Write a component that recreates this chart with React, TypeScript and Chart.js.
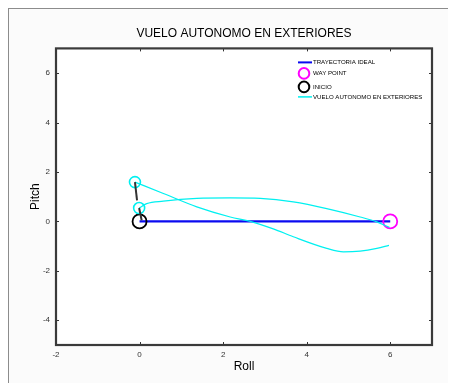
import React, { useEffect, useRef } from 'react';
import { Chart, registerables } from 'chart.js';

Chart.register(...registerables);

const TITLE = 'VUELO AUTONOMO EN EXTERIORES';
const X_LABEL = 'Roll';
const Y_LABEL = 'Pitch';
const X_TICKS = [-2, 0, 2, 4, 6];
const Y_TICKS = [-4, -2, 0, 2, 4, 6];
const X_MIN = -2;
const X_MAX = 7;
const Y_MIN = -5;
const Y_MAX = 7;

const LEGEND_LABELS = ['TRAYECTORIA IDEAL', 'WAY POINT', 'INICIO', 'VUELO AUTONOMO EN EXTERIORES'];

// ideal trajectory
const IDEAL_X = [0, 6];
const IDEAL_Y = [0, 0];
// way point & start
const WAYPOINT_X = [6];
const WAYPOINT_Y = [0];
const START_X = [0];
const START_Y = [0];
// flight segment A
const FLIGHT_A_X = [-0.11, 0.57, 1.37, 2.17, 2.65, 3.2, 3.68, 4.48, 4.88, 5.28, 5.68, 5.97];
const FLIGHT_A_Y = [1.59, 1.13, 0.59, 0.18, 0.0, -0.3, -0.62, -1.09, -1.23, -1.2, -1.09, -0.97];
// flight segment B
const FLIGHT_B_X = [-0.01, 0.17, 0.57, 1.37, 2.17, 2.89, 3.68, 4.48, 5.28, 5.68, 5.98];
const FLIGHT_B_Y = [0.54, 0.72, 0.82, 0.93, 0.95, 0.93, 0.79, 0.52, 0.18, -0.02, -0.24];
// flight markers (cyan circles)
const MARK_X = [-0.11, -0.01];
const MARK_Y = [1.59, 0.54];
// heading segments
const HEAD_A_X = [-0.11, -0.06];
const HEAD_A_Y = [1.59, 0.85];
const HEAD_B_X = [-0.01, 0.05];
const HEAD_B_Y = [0.54, 0.05];

const FONT = 'Liberation Sans, Arial, Helvetica, sans-serif';
const BLUE = '#0a0af0';
const MAGENTA = '#ff00ff';
const CYAN = '#00f0f0';
const DARK = '#333333';

const pts = (xs: number[], ys: number[]) => xs.map((x, i) => ({ x, y: ys[i] }));

const bgPlugin = {
  id: 'bgPlugin',
  beforeDraw(chart: any) {
    const { ctx, chartArea: a, width, height } = chart;
    ctx.save();
    ctx.fillStyle = '#fbfbfb';
    ctx.fillRect(0, 0, width, height);
    ctx.fillStyle = '#ffffff';
    ctx.fillRect(a.left, a.top, a.right - a.left, a.bottom - a.top);
    ctx.restore();
  },
};

const framePlugin = {
  id: 'framePlugin',
  afterDatasetsDraw(chart: any) {
    const { ctx, chartArea: a, scales } = chart;
    ctx.save();
    ctx.strokeStyle = DARK;
    ctx.lineWidth = 1;
    const tl = 3;
    X_TICKS.forEach((v) => {
      const p = Math.round(scales.x.getPixelForValue(v)) + 0.5;
      ctx.beginPath();
      ctx.moveTo(p, a.bottom);
      ctx.lineTo(p, a.bottom - tl);
      ctx.moveTo(p, a.top);
      ctx.lineTo(p, a.top + tl);
      ctx.stroke();
    });
    Y_TICKS.forEach((v) => {
      const p = Math.round(scales.y.getPixelForValue(v)) + 0.5;
      ctx.beginPath();
      ctx.moveTo(a.left, p);
      ctx.lineTo(a.left + tl, p);
      ctx.moveTo(a.right, p);
      ctx.lineTo(a.right - tl, p);
      ctx.stroke();
    });
    ctx.lineWidth = 2.2;
    ctx.strokeStyle = '#3a3a3a';
    ctx.strokeRect(a.left, a.top, a.right - a.left, a.bottom - a.top);
    ctx.restore();
  },
};

const legendPlugin = {
  id: 'customLegend',
  afterDraw(chart: any) {
    const { ctx, chartArea: a } = chart;
    const lineX0 = a.right - 134;
    const lineX1 = a.right - 120;
    const cx = a.right - 128;
    const tx = a.right - 119;
    const rows = [a.top + 14, a.top + 25, a.top + 38.5, a.top + 48.5];
    ctx.save();
    ctx.font = `6.1px ${FONT}`;
    ctx.fillStyle = '#000';
    ctx.textBaseline = 'middle';
    ctx.textAlign = 'left';
    ctx.strokeStyle = BLUE;
    ctx.lineWidth = 2;
    ctx.beginPath();
    ctx.moveTo(lineX0, rows[0]);
    ctx.lineTo(lineX1, rows[0]);
    ctx.stroke();
    ctx.strokeStyle = MAGENTA;
    ctx.beginPath();
    ctx.arc(cx, rows[1], 5.3, 0, Math.PI * 2);
    ctx.stroke();
    ctx.strokeStyle = '#000';
    ctx.beginPath();
    ctx.arc(cx, rows[2], 5.3, 0, Math.PI * 2);
    ctx.stroke();
    ctx.strokeStyle = CYAN;
    ctx.lineWidth = 1.5;
    ctx.beginPath();
    ctx.moveTo(lineX0, rows[3]);
    ctx.lineTo(lineX1, rows[3]);
    ctx.stroke();
    LEGEND_LABELS.forEach((t, i) => ctx.fillText(t, tx, rows[i]));
    ctx.restore();
  },
};

export default function App() {
  const ref = useRef<HTMLCanvasElement>(null);

  useEffect(() => {
    if (!ref.current) return;
    Chart.defaults.font.family = FONT;
    const chart = new Chart(ref.current, {
      type: 'scatter',
      data: {
        datasets: [
          {
            label: 'heading A',
            data: pts(HEAD_A_X, HEAD_A_Y),
            showLine: true,
            borderColor: DARK,
            borderWidth: 2,
            pointRadius: 0,
          },
          {
            label: 'heading B',
            data: pts(HEAD_B_X, HEAD_B_Y),
            showLine: true,
            borderColor: DARK,
            borderWidth: 2,
            pointRadius: 0,
          },
          {
            label: 'marks',
            data: pts(MARK_X, MARK_Y),
            showLine: false,
            pointRadius: 5.5,
            pointBorderWidth: 1.6,
            pointBorderColor: CYAN,
            pointBackgroundColor: 'rgba(0,0,0,0)',
          },
          {
            label: LEGEND_LABELS[3],
            data: pts(FLIGHT_A_X, FLIGHT_A_Y),
            showLine: true,
            borderColor: CYAN,
            borderWidth: 1.2,
            pointRadius: 0,
            cubicInterpolationMode: 'monotone',
          },
          {
            label: LEGEND_LABELS[3] + ' B',
            data: pts(FLIGHT_B_X, FLIGHT_B_Y),
            showLine: true,
            borderColor: CYAN,
            borderWidth: 1.2,
            pointRadius: 0,
            cubicInterpolationMode: 'monotone',
          },
          {
            label: LEGEND_LABELS[2],
            data: pts(START_X, START_Y),
            showLine: false,
            pointRadius: 7,
            pointBorderWidth: 1.8,
            pointBorderColor: '#000',
            pointBackgroundColor: 'rgba(0,0,0,0)',
          },
          {
            label: LEGEND_LABELS[1],
            data: pts(WAYPOINT_X, WAYPOINT_Y),
            showLine: false,
            pointRadius: 7,
            pointBorderWidth: 1.8,
            pointBorderColor: MAGENTA,
            pointBackgroundColor: 'rgba(0,0,0,0)',
          },
          {
            label: LEGEND_LABELS[0],
            data: pts(IDEAL_X, IDEAL_Y),
            showLine: true,
            borderColor: BLUE,
            borderWidth: 2.2,
            pointRadius: 0,
          },
        ] as any,
      },
      options: {
        responsive: false,
        animation: false,
        devicePixelRatio: 1,
        layout: { padding: { top: 0, right: 24, bottom: 0, left: 0 } },
        plugins: {
          legend: { display: false },
          tooltip: { enabled: false },
          title: {
            display: true,
            fullSize: false,
            text: TITLE,
            color: '#000',
            font: { size: 12, weight: 'normal', family: FONT },
            padding: { top: 17, bottom: 8 },
          },
        },
        scales: {
          x: {
            type: 'linear',
            min: X_MIN,
            max: X_MAX,
            afterBuildTicks: (s: any) => {
              s.ticks = X_TICKS.map((v) => ({ value: v }));
            },
            afterFit: (s: any) => {
              s.height = 38;
            },
            grid: { display: false, drawTicks: false },
            border: { display: false },
            ticks: {
              color: DARK,
              font: { size: 8, family: FONT },
              padding: 5,
              maxRotation: 0,
              autoSkip: false,
            },
            title: {
              display: true,
              text: X_LABEL,
              color: '#000',
              font: { size: 12, family: FONT },
              padding: { top: 0, bottom: 9 },
            },
          },
          y: {
            type: 'linear',
            min: Y_MIN,
            max: Y_MAX,
            afterBuildTicks: (s: any) => {
              s.ticks = Y_TICKS.map((v) => ({ value: v }));
            },
            afterFit: (s: any) => {
              s.width = 47;
            },
            grid: { display: false, drawTicks: false },
            border: { display: false },
            ticks: {
              color: DARK,
              font: { size: 8, family: FONT },
              padding: 6,
              autoSkip: false,
            },
            title: {
              display: true,
              text: Y_LABEL,
              color: '#000',
              font: { size: 12, family: FONT },
              padding: { top: 19, bottom: 0 },
            },
          },
        },
      } as any,
      plugins: [bgPlugin, framePlugin, legendPlugin],
    });
    return () => chart.destroy();
  }, []);

  return (
    <div
      style={{
        width: 447,
        height: 374,
        borderTop: '1px solid #8c8c8c',
        borderLeft: '1px solid #8c8c8c',
        background: '#fbfbfb',
        overflow: 'hidden',
      }}
    >
      <canvas ref={ref} width={447} height={374} style={{ display: 'block' }} />
    </div>
  );
}
